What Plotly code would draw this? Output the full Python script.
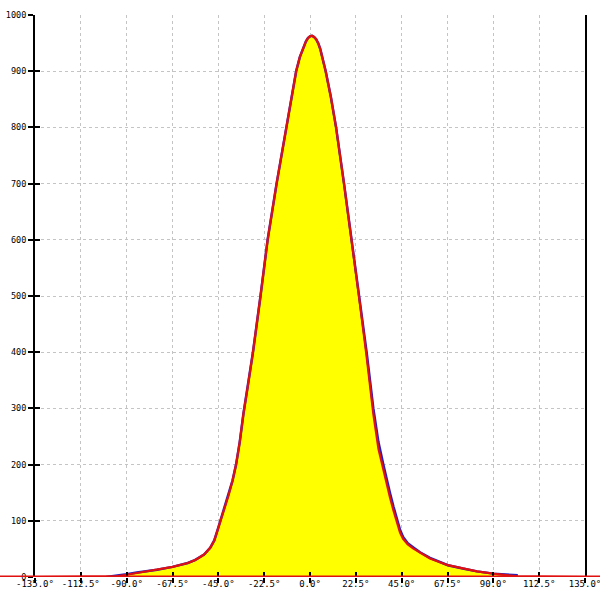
import plotly.graph_objects as go

# Measured distribution (blue, filled yellow)
angle_deg = [-100, -95, -90, -85, -80, -75, -67.5, -60, -56.5, -52, -49, -47, -45.5, -44,
             -42, -40, -38, -36.3, -34.5, -32.7, -30.5, -28, -24.3, -20.8, -16.4, -11.6,
             -9, -6.8, -5, -3, -2, -1, 0, 1, 2, 3, 4, 5, 6, 7.7, 10.2, 12.8, 16.7, 20.5,
             24.2, 27.8, 31.1, 33.6, 36, 37.5, 39.3, 41, 42.7, 44.2, 45.7, 48, 50.6, 54,
             58.9, 67.7, 75, 82, 90, 96, 102]
counts = [0, 2, 5, 8, 10, 13, 18, 25, 30, 40, 52, 65, 82, 100,
          122, 145, 172, 200, 240, 290, 340, 400, 500, 600, 700, 800,
          855, 900, 925, 945, 953, 959, 962, 963, 961, 957, 950, 940, 925, 900, 855, 800,
          700, 600, 500, 400, 300, 240, 200, 175, 149, 125, 101, 84, 71, 60, 53, 44,
          34, 21, 15, 10, 6, 4, 3]

# Fitted curve (red)
fit_deg = [-135, -100, -95, -90, -85, -80, -75, -67.5, -60, -56.5, -52, -49, -47, -45.5, -44,
           -42, -40, -38, -36.3, -34.5, -32.7, -30.5, -28, -24.3, -20.8, -16.4, -11.6,
           -9, -6.8, -5, -3, -2, -1, 0, 1, 2, 3, 4, 5, 6, 7.7, 10.2, 12.8, 16.7, 20.5,
           24.2, 27.8, 31.1, 33.6, 36, 37.5, 39.3, 41, 42.7, 44.2, 45.7, 48, 50.6, 54,
           58.9, 67.7, 75, 82, 90, 96, 102, 135]
fit_counts = [0, 0, 1, 4, 7, 10, 13, 18, 25, 30, 40, 52, 65, 82, 100,
              122, 145, 172, 200, 240, 290, 340, 400, 500, 600, 700, 800,
              855, 900, 925, 945, 953, 959, 962, 963, 961, 957, 950, 940, 925, 900, 855, 800,
              700, 600, 495, 392, 290, 228, 190, 166, 141, 118, 95, 79, 68, 58, 51, 43,
              33, 21, 15, 10, 6, 3, 1, 0]

x_ticks = [-135, -112.5, -90, -67.5, -45, -22.5, 0, 22.5, 45, 67.5, 90, 112.5, 135]
x_tick_text = ["-135.0°", "-112.5°", "-90.0°", "-67.5°", "-45.0°", "-22.5°", "0.0°",
               "22.5°", "45.0°", "67.5°", "90.0°", "112.5°", "135.0°"]
y_ticks = [0, 100, 200, 300, 400, 500, 600, 700, 800, 900, 1000]

font = dict(family="DejaVu Sans Mono", size=9, color="black")
yfont = dict(family="DejaVu Sans Mono", size=8.5, color="black")

fig = go.Figure()
fig.add_trace(go.Scatter(x=angle_deg, y=counts, mode="lines", fill="tozeroy",
                         fillcolor="#ffff00", line=dict(color="#2020c0", width=2.5),
                         hoverinfo="skip", showlegend=False))
fig.add_trace(go.Scatter(x=fit_deg, y=fit_counts, mode="lines",
                         line=dict(color="#e01010", width=2.2),
                         hoverinfo="skip", showlegend=False))
# invisible trace to activate overlay axes (for crossing tick marks)
fig.add_trace(go.Scatter(x=[x_ticks[0]], y=[y_ticks[0]], xaxis="x2", yaxis="y2",
                         mode="markers", marker=dict(opacity=0), hoverinfo="skip",
                         showlegend=False))

grid = dict(showgrid=True, gridcolor="#c4c4c4", gridwidth=1, griddash="3px,3px")

fig.update_layout(
    width=600, height=600,
    margin=dict(l=35, r=15, t=15, b=23, autoexpand=False),
    paper_bgcolor="white", plot_bgcolor="white",
    font=font,
    xaxis=dict(range=[-135, 135], tickvals=x_ticks, ticktext=x_tick_text,
               ticks="inside", ticklen=5, tickwidth=2, tickcolor="black",
               ticklabeloverflow="allow",
               showline=False, zeroline=False, tickfont=font, automargin=False, **grid),
    yaxis=dict(range=[0, 1000], tickvals=y_ticks,
               ticks="outside", ticklen=5, tickwidth=2, tickcolor="black",
               ticklabeloverflow="allow",
               showline=True, linecolor="black", linewidth=2, mirror=True,
               zeroline=False, tickfont=yfont, automargin=False, **grid),
    xaxis2=dict(range=[-135, 135], tickvals=x_ticks, overlaying="x",
                ticks="outside", ticklen=5, tickwidth=2, tickcolor="black",
                showticklabels=False, showgrid=False, zeroline=False, showline=False,
                automargin=False),
    yaxis2=dict(range=[0, 1000], tickvals=y_ticks, overlaying="y",
                ticks="inside", ticklen=5, tickwidth=2, tickcolor="black",
                showticklabels=False, showgrid=False, zeroline=False, showline=False,
                automargin=False),
    shapes=[dict(type="line", xref="paper", yref="y",
                 x0=-35 / 550, x1=1 + 15 / 550, y0=0, y1=0,
                 line=dict(color="#e01010", width=3), layer="above")],
)

# remove the default 8px page margin so the 600x600 figure fills the window
fig.write_html("out.html", config={"displayModeBar": False},
               post_script="document.body.style.margin='0';document.body.style.overflow='hidden';")
